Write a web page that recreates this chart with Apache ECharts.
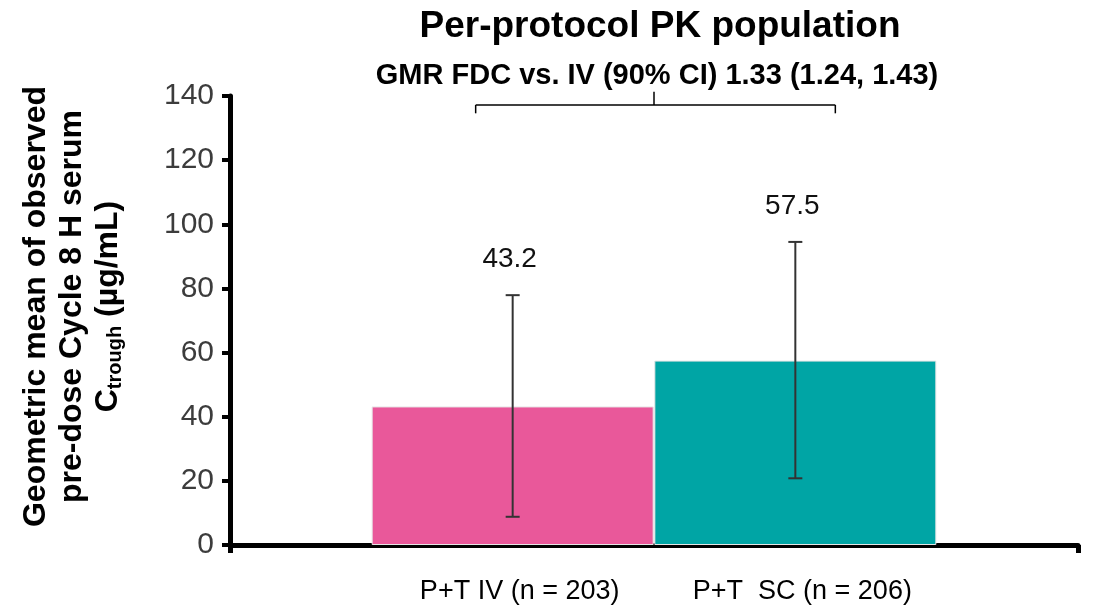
<!DOCTYPE html>
<html>
<head>
<meta charset="utf-8">
<script src="https://cdn.jsdelivr.net/npm/echarts@6/dist/echarts.min.js"></script>
<style>
  html, body { margin: 0; padding: 0; background: #fff; }
  #main { width: 1096px; height: 609px; }
</style>
</head>
<body>
<div id="main"></div>
<script>
// data
var categories = ['P+T IV (n = 203)', 'P+T  SC (n = 206)'];
var geoMean = [43.2, 57.5];
var ciLow = [8.8, 20.8];
var ciHigh = [77.9, 94.5];
var yTicks = [0, 20, 40, 60, 80, 100, 120, 140];
var barColors = ['#e9589a', '#00a5a5'];
var titleText = 'Per-protocol PK population';
var gmrText = 'GMR FDC vs. IV (90% CI) 1.33 (1.24, 1.43)';

var fontFamily = '"Liberation Sans", Arial, sans-serif';

// empty slots left and right so the two bars sit at 1/3 and 2/3 of the axis
var axisData = [''].concat(categories, ['']);

var barData = [];
var errData = [];
categories.forEach(function (c, i) {
	barData.push({ value: [i + 1, geoMean[i]], itemStyle: { color: barColors[i] } });
	errData.push([i + 1, ciLow[i], ciHigh[i], geoMean[i]]);
});

var chart = echarts.init(document.getElementById('main'));

var option = {
	animation: false,
	title: [{
		text: titleText,
		left: 655,
		top: 3,
		textAlign: 'center',
		textStyle: { fontFamily: fontFamily, fontSize: 37, fontWeight: 'bold', color: '#000' }
	}, {
		text: gmrText,
		left: 652,
		top: 56,
		textAlign: 'center',
		textStyle: { fontFamily: fontFamily, fontSize: 29, fontWeight: 'bold', color: '#000' }
	}],
	grid: { left: 230, right: 18, top: 96, bottom: 64 },
	xAxis: {
		type: 'category',
		data: axisData,
		boundaryGap: false,
		axisLine: { lineStyle: { color: '#000', width: 5 } },
		axisTick: {
			length: 8,
			interval: function (index) { return index === 0 || index === axisData.length - 1; },
			lineStyle: { color: '#000', width: 5 }
		},
		axisLabel: {
			interval: 0,
			margin: 33,
			padding: [0, 0, 0, 14],
			fontFamily: fontFamily,
			fontSize: 27,
			color: '#000'
		},
		splitLine: { show: false }
	},
	yAxis: {
		type: 'value',
		min: yTicks[0],
		max: yTicks[yTicks.length - 1],
		interval: yTicks[1] - yTicks[0],
		name: 'Geometric mean of observed\npre-dose Cycle 8 H serum\n{b|C}{s|trough}{b| (µg/mL)}',
		nameLocation: 'middle',
		nameRotate: 90,
		nameGap: 104,
		nameTextStyle: {
			fontFamily: fontFamily,
			fontSize: 32,
			fontWeight: 'bold',
			color: '#000',
			lineHeight: 36,
			align: 'center',
			padding: [0, 0, 0, 28],
			rich: {
				b: { fontFamily: fontFamily, fontSize: 32, fontWeight: 'bold', color: '#000', lineHeight: 36 },
				s: { fontFamily: fontFamily, fontSize: 20, fontWeight: 'bold', color: '#000', lineHeight: 36, padding: [14, 0, 0, 0] }
			}
		},
		axisLine: { show: true, lineStyle: { color: '#000', width: 5 } },
		axisTick: { show: true, length: 8, lineStyle: { color: '#000', width: 4 } },
		axisLabel: {
			margin: 16,
			fontFamily: fontFamily,
			fontSize: 30,
			color: '#3c3c3c'
		},
		splitLine: { show: false }
	},
	series: [{
		type: 'bar',
		data: barData,
		barWidth: 282,
		itemStyle: { borderColor: '#e6e6e6', borderWidth: 1 }
	}, {
		type: 'custom',
		data: errData,
		renderItem: function (params, api) {
			var lo = api.coord([api.value(0), api.value(1)]);
			var hi = api.coord([api.value(0), api.value(2)]);
			var half = 7;
			var stroke = { stroke: '#333', lineWidth: 2 };
			return {
				type: 'group',
				children: [{
					type: 'line',
					shape: { x1: lo[0], y1: lo[1], x2: hi[0], y2: hi[1] },
					style: stroke
				}, {
					type: 'line',
					shape: { x1: lo[0] - half, y1: lo[1], x2: lo[0] + half, y2: lo[1] },
					style: stroke
				}, {
					type: 'line',
					shape: { x1: hi[0] - half, y1: hi[1], x2: hi[0] + half, y2: hi[1] },
					style: stroke
				}, {
					type: 'text',
					x: hi[0] - 3,
					y: hi[1] - 36,
					style: {
						text: api.value(3).toFixed(1),
						fontFamily: fontFamily,
						fontSize: 28,
						fill: '#111',
						align: 'center',
						verticalAlign: 'middle'
					}
				}]
			};
		},
		z: 3
	}]
};

chart.setOption(option);

// comparison bracket over the two bars
var p1 = chart.convertToPixel({ xAxisIndex: 0 }, 1);
var p2 = chart.convertToPixel({ xAxisIndex: 0 }, 2);
var mid = (p1 + p2) / 2;
var yLine = chart.convertToPixel({ yAxisIndex: 0 }, 137.2);
var yEnd = chart.convertToPixel({ yAxisIndex: 0 }, 134.6);
var yTop = chart.convertToPixel({ yAxisIndex: 0 }, 141.3);
var bl = p1 - 37, br = p2 + 40;
var bStyle = { stroke: '#000', lineWidth: 1.5 };
chart.setOption({
	graphic: [
		{ type: 'line', shape: { x1: bl, y1: yLine, x2: br, y2: yLine }, style: bStyle },
		{ type: 'line', shape: { x1: bl, y1: yLine, x2: bl, y2: yEnd }, style: bStyle },
		{ type: 'line', shape: { x1: br, y1: yLine, x2: br, y2: yEnd }, style: bStyle },
		{ type: 'line', shape: { x1: mid, y1: yLine, x2: mid, y2: yTop }, style: bStyle }
	]
});
</script>
</body>
</html>
